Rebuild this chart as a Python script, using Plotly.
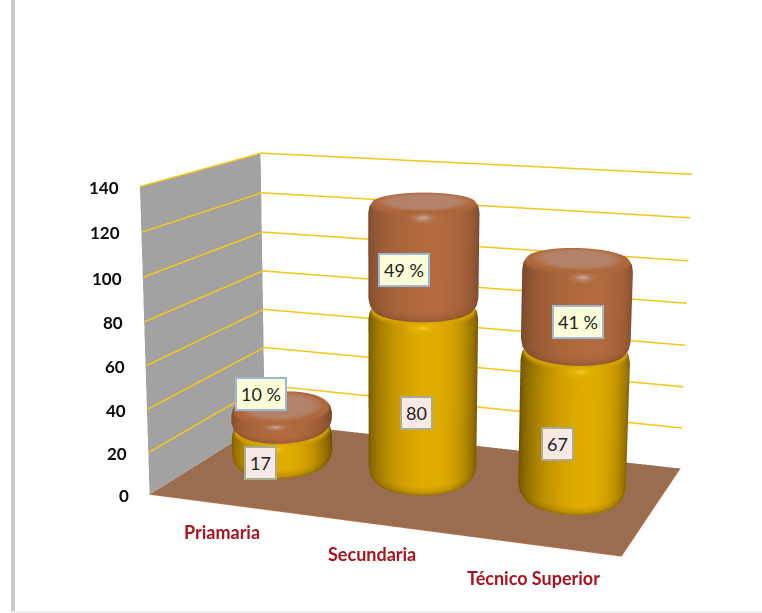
import numpy as np
import plotly.graph_objects as go

# ---- data ----
categories = ["Priamaria", "Secundaria", "Técnico Superior"]
base_values = [17, 80, 67]
top_values = [10, 49, 41]
top_labels = ["10 %", "49 %", "41 %"]
z_ticks = [0, 20, 40, 60, 80, 100, 120, 140]

# ---- layout constants ----
W, H = 762, 613
X_MAX, Y_MAX, Z_MAX = 3.0, 1.0, 140.0
ASPECT = (1.5, 0.8567, 0.9724)
EYE = np.array([1.7016, -4.8079, 1.2096])
CENTER = np.array([-0.1295, -0.0232, 0.0821])
ROLL = 0.0048
FOVY = 0.3638

BAR_X = [0.49, 1.465, 2.465]
BAR_Y = [0.545, 0.57, 0.555]
BAR_R = [0.95, 1.0, 0.96]
# ellipse axes in floor units that give an upright ellipse on the picture
AXIS_A = (0.327, 0.0695)
AXIS_B = (-0.1416, 0.245)

BASE_TARGET = [(261, 463), (417, 413), (558, 443)]
TOP_TARGET = [(262, 394), (404, 270), (578, 321)]
CAT_TARGET = [(223, 533), (373, 554), (535, 577)]

GOLD = [[0, "#6a4f00"], [0.35, "#a67e00"], [0.6, "#e0ac00"], [0.8, "#e6b400"], [1, "#f3cb3a"]]
BROWN = [[0, "#75472b"], [0.35, "#9a5b36"], [0.6, "#b26a3e"], [0.8, "#b2836a"], [1, "#d9a582"]]
FLAT = dict(ambient=1, diffuse=0, specular=0, roughness=1, fresnel=0)


def project(p):
    w = np.array([(p[0] / X_MAX - 0.5) * ASPECT[0], (p[1] / Y_MAX - 0.5) * ASPECT[1], (p[2] / Z_MAX - 0.5) * ASPECT[2]])
    f = CENTER - EYE
    f = f / np.linalg.norm(f)
    s = np.cross(f, [ROLL, 0, 1.0])
    s = s / np.linalg.norm(s)
    u = np.cross(s, f)
    d = w - EYE
    F = (H / 2) / np.tan(FOVY / 2)
    return np.array([W / 2 + F * (s @ d) / (f @ d), H / 2 - F * (u @ d) / (f @ d)])


def cylinder(cx, cy, scale, zb, zt, colorscale):
    h = zt - zb
    b = min(5.0, h * 0.35)
    t = np.linspace(0, 2 * np.pi, 145)
    u = np.cos(t)
    shade = np.clip(1 - ((u - 0.2) / np.where(u < 0.2, 1.2, 0.8)) ** 2, 0, 1) ** 0.55 * 0.6
    glint = shade + 0.4 * np.exp(-(u / 0.16) ** 2) * (np.sin(t) < 0)
    rim = np.maximum(shade * 0.95, 0.55)
    one = np.ones_like(t)
    rings = [  # radius fraction, height, colour values
        (0.92, zb, shade * 0.5), (0.975, zb + 0.4 * b, shade * 0.8), (1.0, zb + b, shade),
        (1.0, zt - b, shade), (0.98, zt - 0.45 * b, glint), (0.93, zt - 0.08 * b, rim),
        (0.86, zt, rim), (0.76, zt, 0.68 * one), (0.6, zt, 0.8 * one), (0.0, zt, 0.8 * one),
    ]
    xs, ys, zs, cs = [], [], [], []
    for r, z, v in rings:
        xs.append(cx + scale * r * (AXIS_A[0] * np.cos(t) + AXIS_B[0] * np.sin(t)))
        ys.append(cy + scale * r * (AXIS_A[1] * np.cos(t) + AXIS_B[1] * np.sin(t)))
        zs.append(np.full_like(t, z))
        cs.append(v)
    return go.Surface(x=np.array(xs), y=np.array(ys), z=np.array(zs), surfacecolor=np.array(cs),
                      colorscale=colorscale, cmin=0, cmax=1, showscale=False, lighting=FLAT, hoverinfo="skip")


fig = go.Figure()


def plane(x, y, z, color):
    fig.add_trace(go.Surface(x=x, y=y, z=z, surfacecolor=np.zeros_like(np.array(z, float)),
                             colorscale=[[0, color], [1, color]], cmin=0, cmax=1, showscale=False,
                             lighting=FLAT, hoverinfo="skip"))


# left wall and floor
plane([[0, 0], [0, 0]], [[0, 1], [0, 1]], [[0, 0], [Z_MAX, Z_MAX]], "#a2a2a2")
plane([[0, X_MAX], [0, X_MAX]], [[0, 0], [1, 1]], [[0, 0], [0, 0]], "#9b6d50")

# grid lines on both walls
for tick in z_ticks[1:]:
    fig.add_trace(go.Scatter3d(x=[0.006, 0.006, X_MAX], y=[0, 0.998, 0.998], z=[tick] * 3, mode="lines",
                               line=dict(color="#f5c518", width=3), hoverinfo="skip", showlegend=False))

# floor rim
fig.add_trace(go.Scatter3d(x=[0, X_MAX, X_MAX], y=[0, 0, 1], z=[0.2] * 3, mode="lines",
                           line=dict(color="#b56f45", width=2), hoverinfo="skip", showlegend=False))

# stacked cylinders
for i in range(len(categories)):
    fig.add_trace(cylinder(BAR_X[i], BAR_Y[i], BAR_R[i], 0, base_values[i], GOLD))
    fig.add_trace(cylinder(BAR_X[i], BAR_Y[i], BAR_R[i], base_values[i], base_values[i] + top_values[i], BROWN))


def shifted(pos, target):
    px = project(pos)
    return dict(x=pos[0], y=pos[1], z=pos[2], xshift=float(target[0] - px[0]), yshift=float(px[1] - target[1]), showarrow=False)


notes = []
for tick in z_ticks:
    notes.append(dict(x=0, y=0, z=tick, text=str(tick), showarrow=False, xanchor="right", xshift=-19, yshift=-1,
                      font=dict(family="Lato", size=17, color="#0a0a0a", weight="bold")))
for i, name in enumerate(categories):
    notes.append(dict(shifted((BAR_X[i], 0, 0), CAT_TARGET[i]), text=name,
                      font=dict(family="Lato", size=18, color="#a8141f", weight="bold")))
    notes.append(dict(shifted((BAR_X[i], BAR_Y[i], base_values[i] / 2), BASE_TARGET[i]), text=str(base_values[i]),
                      font=dict(family="Lato", size=18, color="#222222"), bgcolor="#f9e9e6",
                      bordercolor="#a8ad8c", borderwidth=2, borderpad=4))
    notes.append(dict(shifted((BAR_X[i], BAR_Y[i], base_values[i] + top_values[i] / 2), TOP_TARGET[i]), text=top_labels[i],
                      font=dict(family="Lato", size=18, color="#222222"), bgcolor="#fdfdd8",
                      bordercolor="#9db7d6", borderwidth=2, borderpad=4))

fig.update_layout(
    width=W, height=H, margin=dict(l=0, r=0, t=0, b=0), showlegend=False, paper_bgcolor="white",
    shapes=[
        dict(type="rect", xref="paper", yref="paper", x0=11 / W, x1=15 / W, y0=2 / H, y1=1, fillcolor="#c9c9c9", line_width=0),
        dict(type="rect", xref="paper", yref="paper", x0=11 / W, x1=1, y0=0, y1=2 / H, fillcolor="#efefef", line_width=0),
    ],
    scene=dict(
        domain=dict(x=[0, 1], y=[0, 1]), aspectmode="manual",
        aspectratio=dict(x=ASPECT[0], y=ASPECT[1], z=ASPECT[2]),
        camera=dict(eye=dict(x=EYE[0], y=EYE[1], z=EYE[2]), center=dict(x=CENTER[0], y=CENTER[1], z=CENTER[2]),
                    up=dict(x=ROLL, y=0, z=1), projection=dict(type="perspective")),
        xaxis=dict(visible=False, range=[0, X_MAX]), yaxis=dict(visible=False, range=[0, Y_MAX]),
        zaxis=dict(visible=False, range=[0, Z_MAX]), annotations=notes, bgcolor="white"),
)

post = """
document.body.style.margin='0';
var gd=document.querySelector('.plotly-graph-div');
var s=gd._fullLayout.scene._scene;
s.glplot.fovy=%f;
s.glplot.redraw();
""" % FOVY
fig.write_html("out.html", post_script=post, config=dict(displayModeBar=False))
